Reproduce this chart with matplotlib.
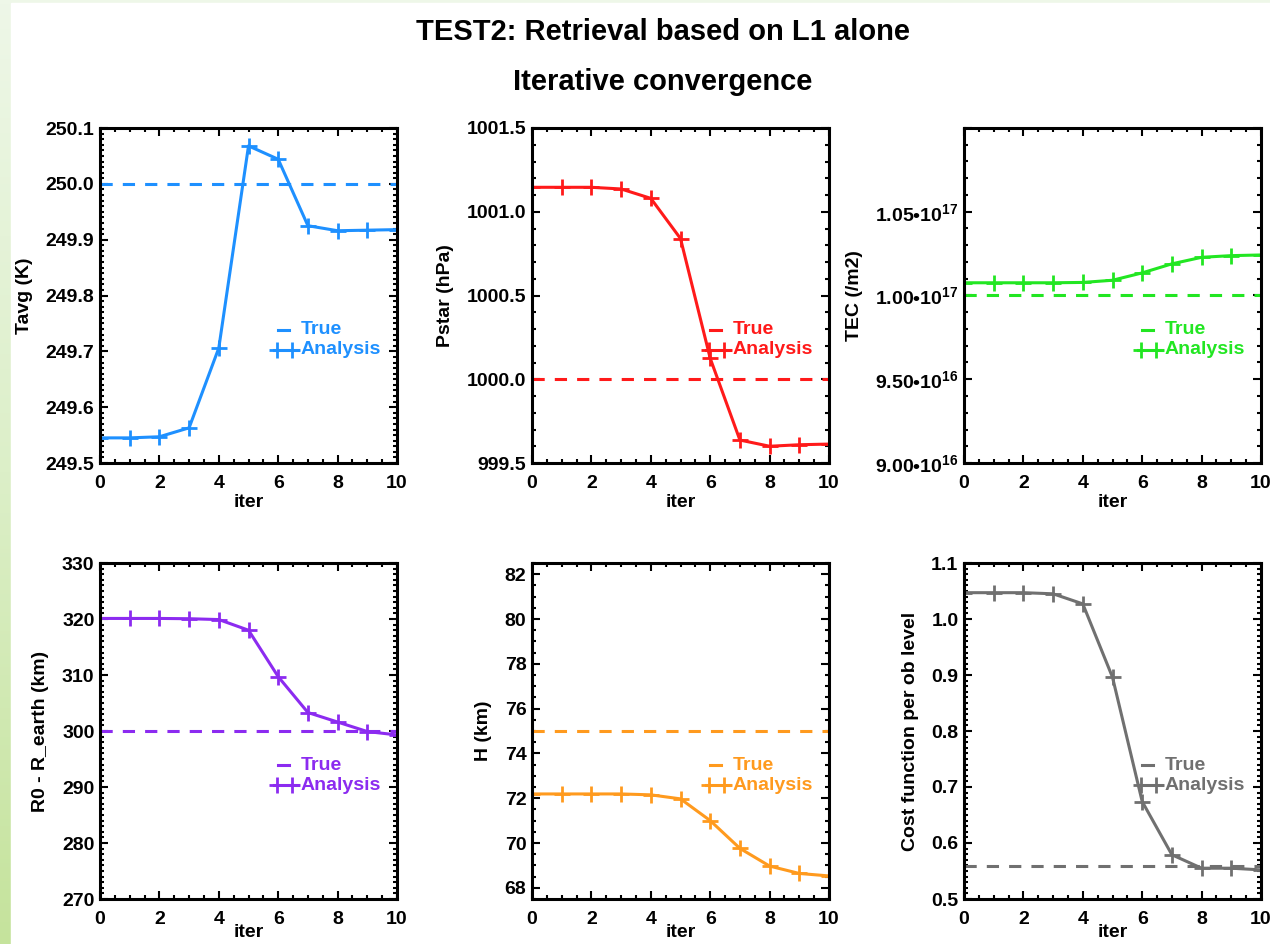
import numpy as np
import matplotlib
matplotlib.use('Agg')
import matplotlib.pyplot as plt
from matplotlib.colors import LinearSegmentedColormap
from matplotlib.patches import Rectangle
from matplotlib.ticker import MultipleLocator, FormatStrFormatter, FuncFormatter

plt.rcParams['font.family'] = ['Liberation Sans', 'DejaVu Sans']
plt.rcParams['font.weight'] = 'bold'
plt.rcParams['axes.labelweight'] = 'bold'
plt.rcParams['mathtext.fontset'] = 'custom'
plt.rcParams['mathtext.rm'] = 'Liberation Sans:bold'
plt.rcParams['mathtext.bf'] = 'Liberation Sans:bold'
plt.rcParams['mathtext.default'] = 'bf'

ITER = list(range(11))

TAVG = [249.545, 249.545, 249.547, 249.563, 249.706, 250.068,
        250.044, 249.925, 249.916, 249.917, 249.918]
TAVG_TRUE = 250.0

PSTAR = [1001.146, 1001.146, 1001.146, 1001.136, 1001.08, 1000.84,
         1000.125, 999.637, 999.60, 999.609, 999.613]
PSTAR_TRUE = 1000.0

TEC = [1.0076e17, 1.0076e17, 1.0076e17, 1.0076e17, 1.0078e17, 1.0091e17,
       1.0135e17, 1.0189e17, 1.0228e17, 1.0238e17, 1.0242e17]
TEC_TRUE = 1.0e17

R0 = [320.1, 320.1, 320.1, 320.05, 319.9, 318.0,
      309.7, 303.3, 301.6, 299.9, 299.3]
R0_TRUE = 300.0

HSCALE = [72.19, 72.19, 72.19, 72.19, 72.15, 71.97,
          71.0, 69.76, 68.97, 68.64, 68.53]
HSCALE_TRUE = 75.0

COST = [1.047, 1.047, 1.047, 1.045, 1.027, 0.896,
        0.674, 0.579, 0.555, 0.555, 0.552]
COST_TRUE = 0.559

W, H = 1270, 944


def tec_label(v, pos):
    if v > 1.075e17:
        return ''
    e = int(np.floor(np.log10(v) + 1e-9))
    return '%.2f\u2022' % (v / 10 ** e) + '10$^{%d}$' % e


def panel(rect, y, true, color, ylabel, ylim, ymaj, ymin, fmt, xpad=1):
    l, t, w, h = rect
    ax = fig.add_axes([l / W, 1 - (t + h) / H, w / W, h / H])
    ax.axhline(true, color=color, lw=2.2, ls='--', dashes=(4, 3.3))
    ax.plot(ITER, y, color=color, lw=2.2, marker='+', ms=12, mew=2)
    ax.set_xlim(0, 10)
    ax.set_ylim(*ylim)
    ax.xaxis.set_major_locator(MultipleLocator(2))
    ax.xaxis.set_minor_locator(MultipleLocator(0.5))
    ax.xaxis.set_major_formatter(FormatStrFormatter('%d'))
    ax.yaxis.set_major_locator(MultipleLocator(ymaj))
    ax.yaxis.set_minor_locator(MultipleLocator(ymin))
    if callable(fmt):
        ax.yaxis.set_major_formatter(FuncFormatter(fmt))
    else:
        ax.yaxis.set_major_formatter(FormatStrFormatter(fmt))
    ax.tick_params(which='both', direction='in', top=True, right=True,
                   width=1.5, labelsize=14)
    ax.tick_params(axis='x', pad=9)
    ax.tick_params(axis='y', pad=4)
    ax.tick_params(which='major', length=6)
    ax.tick_params(which='minor', length=3)
    for s in ax.spines.values():
        s.set_linewidth(2.2)
    ax.set_xlabel('iter', fontsize=14, labelpad=xpad)
    ax.set_ylabel(ylabel, fontsize=14, labelpad=9)

    # key, drawn the IDL way: short dash / "++" in front of the text
    kw = dict(transform=ax.transAxes, clip_on=False, color=color)
    ax.plot([0.600, 0.638], [0.398, 0.398], lw=2.2, **kw)
    ax.plot([0.585, 0.665], [0.338, 0.338], lw=2.2, **kw)
    ax.plot([0.597, 0.648], [0.338, 0.338], ls='none', marker='+',
            ms=12, mew=2, **kw)
    ax.text(0.675, 0.398, 'True', transform=ax.transAxes, color=color,
            fontsize=14, va='center', ha='left')
    ax.text(0.675, 0.338, 'Analysis', transform=ax.transAxes, color=color,
            fontsize=14, va='center', ha='left')
    return ax


fig = plt.figure(figsize=(W / 100, H / 100), dpi=100)

bg = fig.add_axes([0, 0, 1, 1], zorder=-10)
green = LinearSegmentedColormap.from_list('g', ['#eef7e8', '#dcefc8', '#c5e39c'])
bg.imshow(np.linspace(0, 1, 256).reshape(-1, 1), cmap=green, aspect='auto',
          extent=[0, 1, 0, 1], origin='upper')
bg.add_patch(Rectangle((11 / W, 0), 1, 1 - 3 / H, color='white'))
bg.set_xlim(0, 1)
bg.set_ylim(0, 1)
bg.axis('off')

fig.text(663 / W, 1 - 32 / H, 'TEST2: Retrieval based on L1 alone',
         fontsize=21, ha='center', va='center')
fig.text(663 / W, 1 - 82 / H, 'Iterative convergence',
         fontsize=21, ha='center', va='center')

panel((100, 128, 297, 335), TAVG, TAVG_TRUE, '#1e90ff', 'Tavg (K)',
      (249.5, 250.1), 0.1, 0.01, '%.1f')
panel((532, 128, 297, 335), PSTAR, PSTAR_TRUE, '#ff1a1a', 'Pstar (hPa)',
      (999.5, 1001.5), 0.5, 0.1, '%.1f')
panel((964, 128, 297, 335), TEC, TEC_TRUE, '#22e622', 'TEC (/m2)',
      (9.0e16, 1.1e17), 0.5e16, 0.1e16, tec_label)
panel((100, 563, 297, 336), R0, R0_TRUE, '#8c2bf0', 'R0 - R_earth (km)',
      (270, 330), 10, 1, '%d', xpad=-3)
panel((532, 563, 297, 336), HSCALE, HSCALE_TRUE, '#ff9a1e', 'H (km)',
      (67.5, 82.5), 2, 0.5, '%d', xpad=-3)
panel((964, 563, 297, 336), COST, COST_TRUE, '#707070', 'Cost function per ob level',
      (0.5, 1.1), 0.1, 0.01, '%.1f', xpad=-3)

fig.savefig('out.png', dpi=100)
